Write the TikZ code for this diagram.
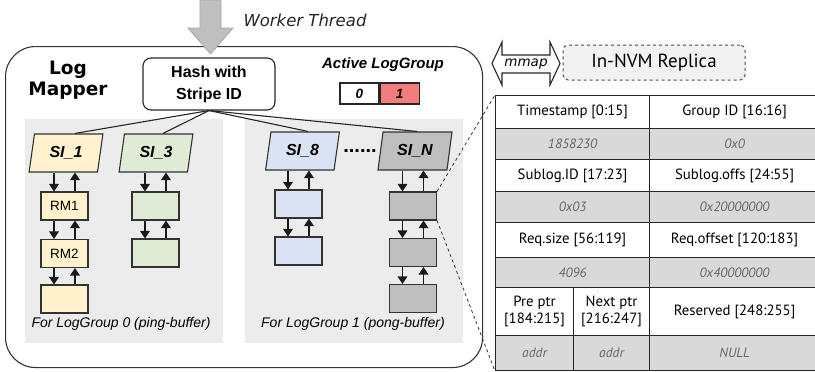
\documentclass[tikz,border=0pt]{standalone}
\usepackage{fontspec}
\setmainfont{Liberation Sans}
\newfontfamily\dejavu{DejaVu Sans}
\newfontfamily\ptsans{PT Sans}
\usepackage{tikz}
\usetikzlibrary{calc, positioning, arrows.meta, shapes.geometric}
\usepackage{xcolor}
\definecolor{panelGray}{RGB}{236, 236, 236}
\definecolor{siYellow}{RGB}{255, 242, 204}
\definecolor{siGreen}{RGB}{223, 236, 213}
\definecolor{siBlue}{RGB}{218, 227, 243}
\definecolor{siGray}{RGB}{191, 191, 191}
\definecolor{actRed}{RGB}{244, 124, 124}
\definecolor{rowGray}{RGB}{217, 217, 217}
\definecolor{nvmGray}{RGB}{242, 242, 242}

\newcommand{\fsz}[2]{\fontsize{#1}{#2}\selectfont}
% down / up pair between two stacked nodes
\newcommand{\linkpair}[2]{%
  \coordinate (dn) at ([xshift=-10.5pt]#2.north);
  \coordinate (up) at ([xshift=10.5pt]#2.north);
  \draw[flow] (dn |- #1.south) -- (dn);
  \draw[flow] (up) -- (up |- #1.south);}

\begin{document}
\begin{tikzpicture}[x=1pt, y=-1pt,
  rmbox/.style={draw=black!80, line width=1.1pt, minimum width=47, minimum height=28, inner sep=0, font=\fsz{13.5}{15}},
  sibox/.style={trapezium, trapezium left angle=78, trapezium right angle=102, trapezium stretches=true,
    draw=black!80, line width=1.1pt, minimum width=74, minimum height=38, inner sep=0, font=\bfseries\itshape\fsz{16}{18}},
  flow/.style={line width=1.7pt, black!90, -{Triangle[width=9.5pt, length=7.5pt]}},
  link/.style={line width=1.1pt, black!85},
  cell/.style={draw=black!85, line width=1.1pt, anchor=north west, inner sep=0, align=center, font=\ptsans\fsz{14.8}{17}},
  valcell/.style={cell, fill=rowGray, text=black!60, font=\ptsans\itshape\fsz{13.5}{15}}]
  \useasboundingbox (0,0) rectangle (815,372);

  % log mapper frame and the two buffers
  \node[draw=black!80, line width=1.1pt, rounded corners=30pt, anchor=north west,
    minimum width=477, minimum height=321] (mapper) at (5,46) {};
  \node[fill=panelGray, anchor=north west, minimum width=198, minimum height=224, inner sep=0] (ping) at (25,119) {};
  \node[fill=panelGray, anchor=north west, minimum width=218, minimum height=224, inner sep=0] (pong) at (245,119) {};

  % worker thread
  \draw[draw=black!35, fill=siGray, line width=0.8pt]
    (200,0) -- (221,0) -- (221,28) -- (233,28) -- (210.5,54) -- (188,28) -- (200,28) -- cycle;
  \node[font=\dejavu\itshape\fsz{16.5}{19}, text=black!85] (worker) at (305,20) {Worker Thread};

  \node[font=\dejavu\bfseries\fsz{18.5}{21}, align=center] (title) at (68,80) {Log\\Mapper};
  \node[draw=black!85, line width=1.1pt, rounded corners=8pt, minimum width=132, minimum height=52,
    align=center, font=\bfseries\fsz{16}{22}] (hash) at (209,84) {Hash with\\Stripe ID};

  \node[font=\bfseries\itshape\fsz{15}{18}] (active) at (383,65) {Active LogGroup};
  \node[draw=black!85, line width=1.1pt, minimum width=39, minimum height=21, inner sep=0,
    font=\bfseries\itshape\fsz{13.5}{15}] (grp0) at (359.5,93.5) {0};
  \node[draw=black!85, line width=1.1pt, fill=actRed, minimum width=39, minimum height=21, inner sep=0,
    font=\bfseries\itshape\fsz{13.5}{15}, right=0pt of grp0] (grp1) {1};

  % stripe index entries
  \node[sibox, fill=siYellow] (si1) at (66,153) {SI\_1};
  \node[sibox, fill=siGreen] (si3) at (156,153) {SI\_3};
  \node[sibox, fill=siBlue] (si8) at (302.5,151) {SI\_8};
  \node[sibox, fill=siGray] (siN) at (415,151) {SI\_N};
  \node[font=\bfseries\fsz{20}{22}] (dots) at (360,151) {......};

  \draw[link] (hash.south) -- ([xshift=9pt]si1.north);
  \draw[link] (hash.south) -- ([xshift=7pt]si3.north);
  \draw[link] (hash.south) -- ([xshift=5.5pt]si8.north);
  \draw[link] (hash.south) -- ([xshift=2pt]siN.north);

  % request mappers
  \node[rmbox, fill=siYellow] (rm11) at (64.5,206) {RM1};
  \node[rmbox, fill=siYellow] (rm12) at (64.5,253.5) {RM2};
  \node[rmbox, fill=siYellow] (rm13) at (64.5,299) {};
  \node[rmbox, fill=siGreen] (rm31) at (155.5,206) {};
  \node[rmbox, fill=siGreen] (rm32) at (155.5,253) {};
  \node[rmbox, fill=siBlue] (rm81) at (298.5,204) {};
  \node[rmbox, fill=siBlue] (rm82) at (298.5,251) {};
  \node[rmbox, fill=siGray] (rmN1) at (413,206) {};
  \node[rmbox, fill=siGray] (rmN2) at (413,252.5) {};
  \node[rmbox, fill=siGray] (rmN3) at (413,298.5) {};

  \linkpair{si1}{rm11}
  \linkpair{rm11}{rm12}
  \linkpair{rm12}{rm13}
  \linkpair{si3}{rm31}
  \linkpair{rm31}{rm32}
  \linkpair{si8}{rm81}
  \linkpair{rm81}{rm82}
  \linkpair{siN}{rmN1}
  \linkpair{rmN1}{rmN2}
  \linkpair{rmN2}{rmN3}

  \node[font=\itshape\fsz{14}{16}] (capping) at (121,324) {For LogGroup 0 (ping-buffer)};
  \node[font=\itshape\fsz{14}{16}] (cappong) at (353,324) {For LogGroup 1 (pong-buffer)};

  % replica in NVM
  \draw[draw=black!85, fill=white, line width=1.1pt]
    (492,63.5) -- (502,42) -- (502,55) -- (550,55) -- (550,42) -- (560,63.5)
    -- (550,85) -- (550,73) -- (502,73) -- (502,85) -- cycle;
  \node[font=\dejavu\itshape\fsz{13.5}{15}] (mmap) at (526,64) {mmap};
  \node[draw=black!70, dashed, line width=1pt, rounded corners=5pt, fill=nvmGray,
    minimum width=182, minimum height=35, font=\ptsans\fsz{19}{21}] (nvm) at (654,62.5) {In-NVM Replica};

  \node[cell, minimum width=154, minimum height=33] (ts) at (495,95) {Timestamp [0:15]};
  \node[cell, minimum width=170, minimum height=33] (gid) at (649,95) {Group ID [16:16]};
  \node[valcell, minimum width=154, minimum height=31] (tsv) at (495,128) {1858230};
  \node[valcell, minimum width=170, minimum height=31] (gidv) at (649,128) {0x0};
  \node[cell, minimum width=154, minimum height=32] (sid) at (495,159) {Sublog.ID [17:23]};
  \node[cell, minimum width=170, minimum height=32] (soff) at (649,159) {Sublog.offs [24:55]};
  \node[valcell, minimum width=154, minimum height=31] (sidv) at (495,191) {0x03};
  \node[valcell, minimum width=170, minimum height=31] (soffv) at (649,191) {0x20000000};
  \node[cell, minimum width=154, minimum height=35] (rsz) at (495,222) {Req.size [56:119]};
  \node[cell, minimum width=170, minimum height=35] (roff) at (649,222) {Req.offset [120:183]};
  \node[valcell, minimum width=154, minimum height=30] (rszv) at (495,257) {4096};
  \node[valcell, minimum width=170, minimum height=30] (roffv) at (649,257) {0x40000000};
  \node[cell, minimum width=78, minimum height=48] (pre) at (495,287) {Pre ptr\\{[184:215]}};
  \node[cell, minimum width=76, minimum height=48] (nxt) at (573,287) {Next ptr\\{[216:247]}};
  \node[cell, minimum width=170, minimum height=48] (rsv) at (649,287) {Reserved [248:255]};
  \node[valcell, minimum width=78, minimum height=35] (prev) at (495,335) {addr};
  \node[valcell, minimum width=76, minimum height=35] (nxtv) at (573,335) {addr};
  \node[valcell, minimum width=170, minimum height=35] (rsvv) at (649,335) {NULL};

  \draw[black!80, dashed, line width=0.8pt] (rmN1.north east) -- (ts.north west);
  \draw[black!80, dashed, line width=0.8pt] (rmN1.south east) -- (prev.south west);
\end{tikzpicture}
\end{document}
